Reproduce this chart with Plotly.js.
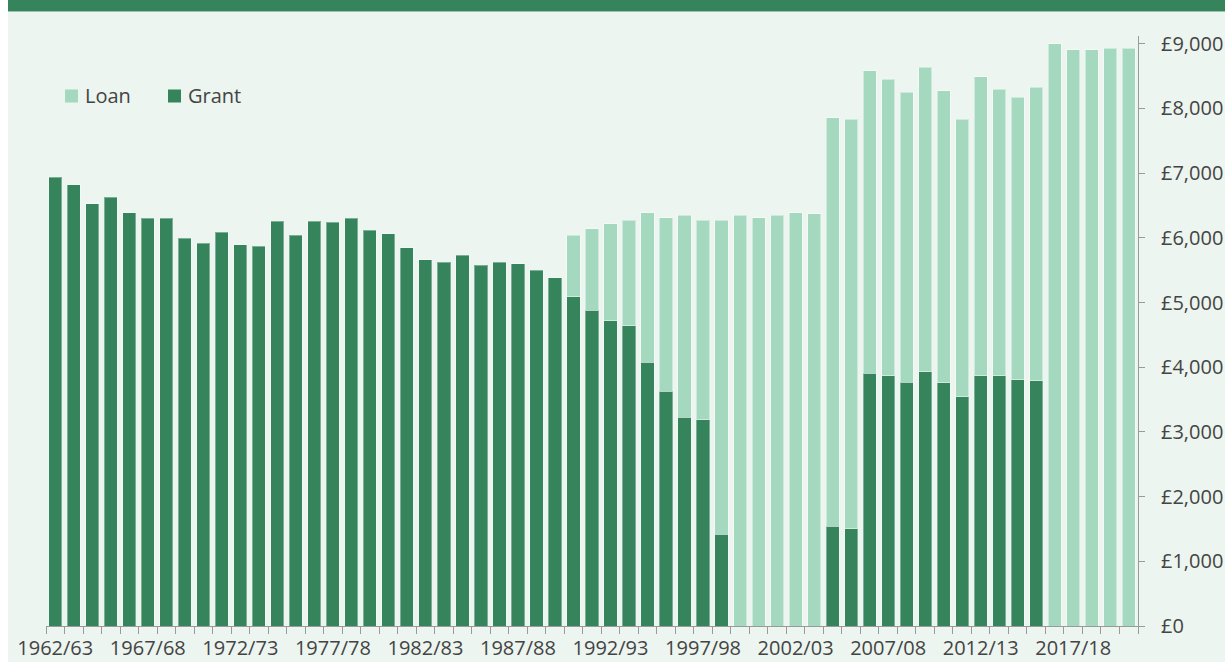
<!DOCTYPE html>
<html>
<head>
<meta charset="utf-8">
<script src="https://cdn.plot.ly/plotly-3.0.1.min.js"></script>
<style>html,body{margin:0;padding:0;background:#fff;}#chart{width:1225px;height:662px;}</style>
</head>
<body>
<div id="chart"></div>
<script>
const years = ["1962/63","1963/64","1964/65","1965/66","1966/67","1967/68","1968/69","1969/70","1970/71","1971/72",
"1972/73","1973/74","1974/75","1975/76","1976/77","1977/78","1978/79","1979/80","1980/81","1981/82",
"1982/83","1983/84","1984/85","1985/86","1986/87","1987/88","1988/89","1989/90","1990/91","1991/92",
"1992/93","1993/94","1994/95","1995/96","1996/97","1997/98","1998/99","1999/00","2000/01","2001/02",
"2002/03","2003/04","2004/05","2005/06","2006/07","2007/08","2008/09","2009/10","2010/11","2011/12",
"2012/13","2013/14","2014/15","2015/16","2016/17","2017/18","2018/19","2019/20","2020/21"];

const labelledYears = ["1962/63","1967/68","1972/73","1977/78","1982/83","1987/88","1992/93","1997/98","2002/03","2007/08","2012/13","2017/18"];

const grant = [6940,6820,6530,6630,6390,6300,6300,5990,5920,6090,
5890,5870,6260,6040,6260,6240,6300,6120,6060,5850,
5660,5620,5730,5580,5620,5600,5500,5380,5090,4880,
4720,4640,4080,3630,3230,3190,1420,null,null,null,
null,null,1540,1500,3910,3870,3770,3930,3760,3540,
3870,3870,3810,3790,null,null,null,null,null];

const loan = [null,null,null,null,null,null,null,null,null,null,
null,null,null,null,null,null,null,null,null,null,
null,null,null,null,null,null,null,null,950,1260,
1500,1630,2310,2680,3120,3080,4850,6350,6310,6350,
6390,6370,6320,6330,4670,4580,4480,4710,4510,4290,
4620,4430,4360,4540,9000,8910,8910,8930,8930];

const legendNames = ["Loan","Grant"];

const tickText = years.map(y => labelledYears.includes(y) ? y : "");

const DARK = "#36845C", LIGHT = "#A4D9BF", BG = "#ECF5EF", TXT = "#444444", AX = "#9a9a9a";
const FONT = "Open Sans, Noto Sans, sans-serif";

const traces = [
  {type:"bar", name:"Grant", x:years, y:grant, marker:{color:DARK, line:{color:"rgba(255,255,255,0.35)", width:1}}, showlegend:false},
  {type:"bar", name:"Loan", x:years, y:loan, marker:{color:LIGHT, line:{color:"rgba(255,255,255,0.45)", width:1}}, showlegend:false}
];

const L = 46, W = 1092, T = 36, H = 590;
const px = v => (v - L) / W;
const py = v => (T + H - v) / H;

// custom legend (squares + labels)
const legColors = [LIGHT, DARK];
const legX = [65, 168];
const legendShapes = legendNames.map((n,i) => ({type:"rect", xref:"paper", yref:"paper",
  x0:px(legX[i]), x1:px(legX[i]+13), y0:py(102.5), y1:py(89.5), fillcolor:legColors[i], line:{width:0}}));
const legendAnn = legendNames.map((n,i) => ({text:n, xref:"paper", yref:"paper", x:px(legX[i]+18), y:py(96),
  xanchor:"left", yanchor:"middle", showarrow:false, font:{family:FONT, size:20, color:TXT}}));

const layout = {
  width:1225, height:662,
  margin:{l:L, r:1225-L-W, t:T, b:662-T-H, pad:0},
  paper_bgcolor:"#ffffff",
  plot_bgcolor:"rgba(0,0,0,0)",
  barmode:"stack",
  bargap:0.29,
  font:{family:FONT, size:20, color:TXT},
  showlegend:false,
  xaxis:{type:"category", tickmode:"array", tickvals:years, ticktext:tickText, tickangle:0,
         tickson:"boundaries", ticks:"outside", ticklen:7, tickcolor:AX, tickwidth:1,
         showline:true, linecolor:AX, linewidth:1, showgrid:false, zeroline:false, ticklabelstandoff:4,
         tickfont:{family:FONT, size:20, color:TXT}, range:[-0.5, 58.5], fixedrange:true},
  yaxis:{side:"right", range:[0, 9120], tickmode:"linear", tick0:0, dtick:1000, tickprefix:"£", tickformat:",d",
         ticks:"outside", ticklen:6, tickcolor:AX, showline:true, linecolor:AX, linewidth:1,
         showgrid:false, zeroline:false, ticklabelstandoff:12,
         tickfont:{family:FONT, size:20, color:TXT}, fixedrange:true},
  shapes:[
    {type:"rect", xref:"paper", yref:"paper", x0:px(8), x1:px(1230), y0:py(668), y1:py(12), fillcolor:BG, line:{width:0}, layer:"below"},
    {type:"rect", xref:"paper", yref:"paper", x0:px(8), x1:px(1230), y0:py(11.5), y1:py(-5), fillcolor:DARK, line:{width:0}, layer:"below"}
  ].concat(legendShapes),
  annotations: legendAnn
};

Plotly.newPlot("chart", traces, layout, {displayModeBar:false, staticPlot:true});
</script>
</body>
</html>
